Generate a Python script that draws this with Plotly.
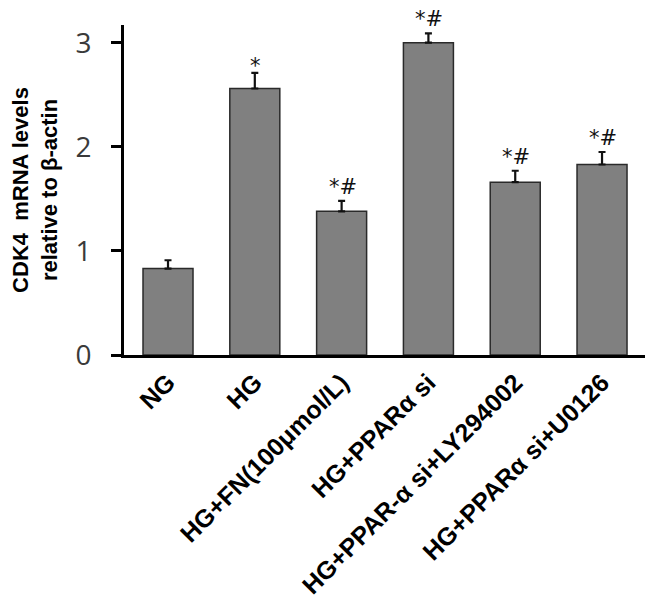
import plotly.graph_objects as go

categories = ["NG", "HG", "HG+FN(100μmol/L)", "HG+PPARα si",
              "HG+PPAR-α si+LY294002", "HG+PPARα si+U0126"]
values = [0.83, 2.56, 1.38, 3.00, 1.66, 1.83]
errors = [0.08, 0.15, 0.10, 0.09, 0.11, 0.12]
marks = ["", "*", "*#", "*#", "*#", "*#"]
y_ticks = [0, 1, 2, 3]

idx = list(range(len(categories)))

fig = go.Figure()
fig.add_trace(go.Bar(
    x=idx, y=values,
    width=0.576,
    marker=dict(color="#808080", line=dict(color="#2a2a2a", width=1.5)),
    error_y=dict(type="data", array=errors, arrayminus=[0]*len(errors),
                 symmetric=False, color="#111111", thickness=2.2, width=3.5),
    showlegend=False,
))

for i, (v, e, m) in enumerate(zip(values, errors, marks)):
    if m:
        fig.add_annotation(x=i, y=v + e, text=m, showarrow=False,
                           yanchor="bottom", xshift=1, borderpad=0,
                           yshift=(-6 if m == "*" else 1),
                           font=dict(family="DejaVu Sans", size=21, color="#111"))

fig.update_layout(
    width=653, height=610,
    margin=dict(l=116, r=16, t=17, b=263),
    plot_bgcolor="white", paper_bgcolor="white",
    xaxis=dict(
        range=[-0.507, 5.495], tickmode="array",
        tickvals=idx, ticktext=categories, tickangle=-45,
        showline=True, linecolor="black", linewidth=3,
        ticks="", showgrid=False, zeroline=False, automargin=False,
        tickfont=dict(family="Liberation Sans", size=25, color="black", weight="bold"),
    ),
    yaxis=dict(
        range=[0, 3.17], tickvals=y_ticks, ticks="outside", ticklen=10,
        tickwidth=3, tickcolor="black", ticklabelstandoff=14,
        showline=True, linecolor="black", linewidth=3,
        showgrid=False, zeroline=False, automargin=False,
        tickfont=dict(family="Open Sans", size=28, color="#3a3a3a"),
        title=dict(text="CDK4  mRNA levels<br>relative to β-actin",
                   font=dict(family="Liberation Sans", size=22, color="black", weight="bold"),
                   standoff=22),
    ),
)

fig.write_html("out.html")
